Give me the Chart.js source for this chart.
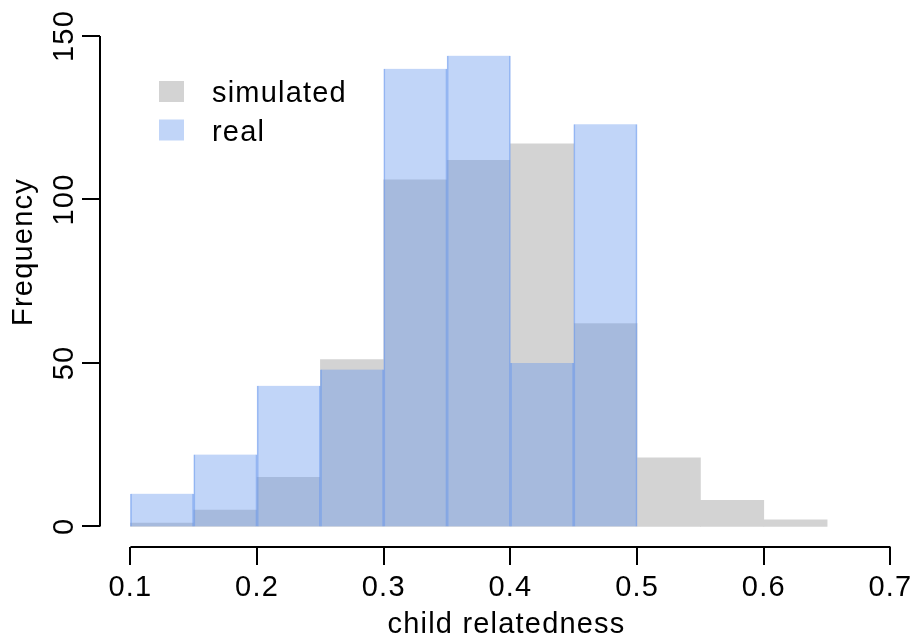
<!DOCTYPE html>
<html>
<head>
<meta charset="utf-8">
<script src="https://cdn.jsdelivr.net/npm/chart.js@4/dist/chart.umd.min.js"></script>
<style>
html, body { margin: 0; padding: 0; background: #fff; }
</style>
</head>
<body>
<canvas id="histChart" width="913" height="639"></canvas>
<script>
// histogram bins (left edges), each 0.05 wide
const binStarts = [0.10, 0.15, 0.20, 0.25, 0.30, 0.35, 0.40, 0.45, 0.50, 0.55, 0.60];
const binWidth = 0.05;
const simulatedCounts = [1, 5, 15, 51, 106, 112, 117, 62, 21, 8, 2];
const realCounts = [10, 22, 43, 48, 140, 144, 50, 123];
const seriesNames = ['simulated', 'real'];
const xTicks = [0.1, 0.2, 0.3, 0.4, 0.5, 0.6, 0.7];
const xTickLabels = ['0.1', '0.2', '0.3', '0.4', '0.5', '0.6', '0.7'];
const yTicks = [0, 50, 100, 150];
const yTickLabels = ['0', '50', '100', '150'];
const xTitle = 'child relatedness';
const yTitle = 'Frequency';

const FONT = '"Liberation Sans", Arial, sans-serif';
const FSIZE = 29;
const simColor = '#d3d3d3';
const realColor = 'rgba(100, 149, 237, 0.4)';

Chart.defaults.font.family = FONT;
Chart.defaults.font.size = FSIZE;
Chart.defaults.color = '#000';

// R style detached axes, rotated y labels and the legend box
const rAxes = {
    id: 'rAxes',
    beforeDraw(chart) {
        chart.ctx.letterSpacing = '1.2px';
    },
    afterDraw(chart) {
        const {ctx, chartArea, scales: {x, y}} = chart;
        ctx.save();
        ctx.strokeStyle = '#000';
        ctx.lineWidth = 2;

        // x axis
        const xa = Math.round(chartArea.bottom) + 1;
        ctx.beginPath();
        ctx.moveTo(x.getPixelForValue(xTicks[0]), xa);
        ctx.lineTo(x.getPixelForValue(xTicks[xTicks.length - 1]), xa);
        xTicks.forEach(v => {
            const px = Math.round(x.getPixelForValue(v));
            ctx.moveTo(px, xa);
            ctx.lineTo(px, xa + 18);
        });
        ctx.stroke();

        // y axis
        const ya = Math.round(chartArea.left);
        ctx.beginPath();
        ctx.moveTo(ya, y.getPixelForValue(yTicks[0]));
        ctx.lineTo(ya, y.getPixelForValue(yTicks[yTicks.length - 1]));
        yTicks.forEach(v => {
            const py = Math.round(y.getPixelForValue(v));
            ctx.moveTo(ya, py);
            ctx.lineTo(ya - 18, py);
        });
        ctx.stroke();

        ctx.fillStyle = '#000';
        ctx.font = FSIZE + 'px ' + FONT;
        ctx.textAlign = 'center';
        ctx.textBaseline = 'alphabetic';
        yTicks.forEach((v, i) => {
            ctx.save();
            ctx.translate(73, y.getPixelForValue(v));
            ctx.rotate(-Math.PI / 2);
            ctx.fillText(yTickLabels[i], 0, 0);
            ctx.restore();
        });

        // y title
        ctx.save();
        ctx.translate(32, 252);
        ctx.rotate(-Math.PI / 2);
        ctx.fillText(yTitle, 0, 0);
        ctx.restore();

        // legend
        const items = [[simColor, seriesNames[0]], [realColor, seriesNames[1]]];
        ctx.textAlign = 'left';
        items.forEach((it, i) => {
            const top = 81 + i * 38.5;
            ctx.fillStyle = it[0];
            ctx.fillRect(159, top, 25, 21);
            ctx.fillStyle = '#000';
            ctx.fillText(it[1], 212, top + 21);
        });
        ctx.restore();
    }
};

const ctx = document.getElementById('histChart').getContext('2d');
const chart = new Chart(ctx, {
    type: 'bar',
    data: {
        datasets: [{
            label: seriesNames[0],
            data: simulatedCounts.map((c, i) => ({x: binStarts[i] + binWidth / 2, y: c})),
            backgroundColor: simColor,
            borderWidth: 0,
            order: 2
        }, {
            label: seriesNames[1],
            data: realCounts.map((c, i) => ({x: binStarts[i] + binWidth / 2, y: c})),
            backgroundColor: realColor,
            borderColor: 'rgba(100, 149, 237, 0.6)',
            borderWidth: {left: 1, right: 1, top: 0, bottom: 0},
            order: 1
        }]
    },
    options: {
        responsive: false,
        animation: false,
        devicePixelRatio: 1,
        layout: { padding: { top: 16.4, left: 0, right: 0, bottom: 0 } },
        datasets: {
            bar: { grouped: false, barPercentage: 1, categoryPercentage: 1 }
        },
        plugins: {
            legend: { display: false },
            tooltip: { enabled: false }
        },
        scales: {
            x: {
                type: 'linear',
                offset: false,
                min: 0.076,
                max: 0.7178,
                afterBuildTicks: s => { s.ticks = xTicks.map(v => ({value: v})); },
                afterFit: s => {
                    s.height = 93;
                    s.paddingLeft = 0;
                    s.paddingRight = 0;
                },
                grid: { display: false, drawTicks: false, offset: false },
                border: { display: false },
                ticks: {
                    autoSkip: false,
                    maxRotation: 0,
                    padding: 25,
                    color: '#000',
                    callback: (v, i) => xTickLabels[i]
                },
                title: {
                    display: true,
                    text: xTitle,
                    color: '#000',
                    font: { size: FSIZE, lineHeight: 1 },
                    padding: 0
                }
            },
            y: {
                min: -6,
                max: 156,
                afterBuildTicks: s => { s.ticks = yTicks.map(v => ({value: v})); },
                afterFit: s => { s.width = 100; },
                grid: { display: false, drawTicks: false },
                border: { display: false },
                ticks: { display: false }
            }
        }
    },
    plugins: [rAxes]
});
</script>
</body>
</html>
